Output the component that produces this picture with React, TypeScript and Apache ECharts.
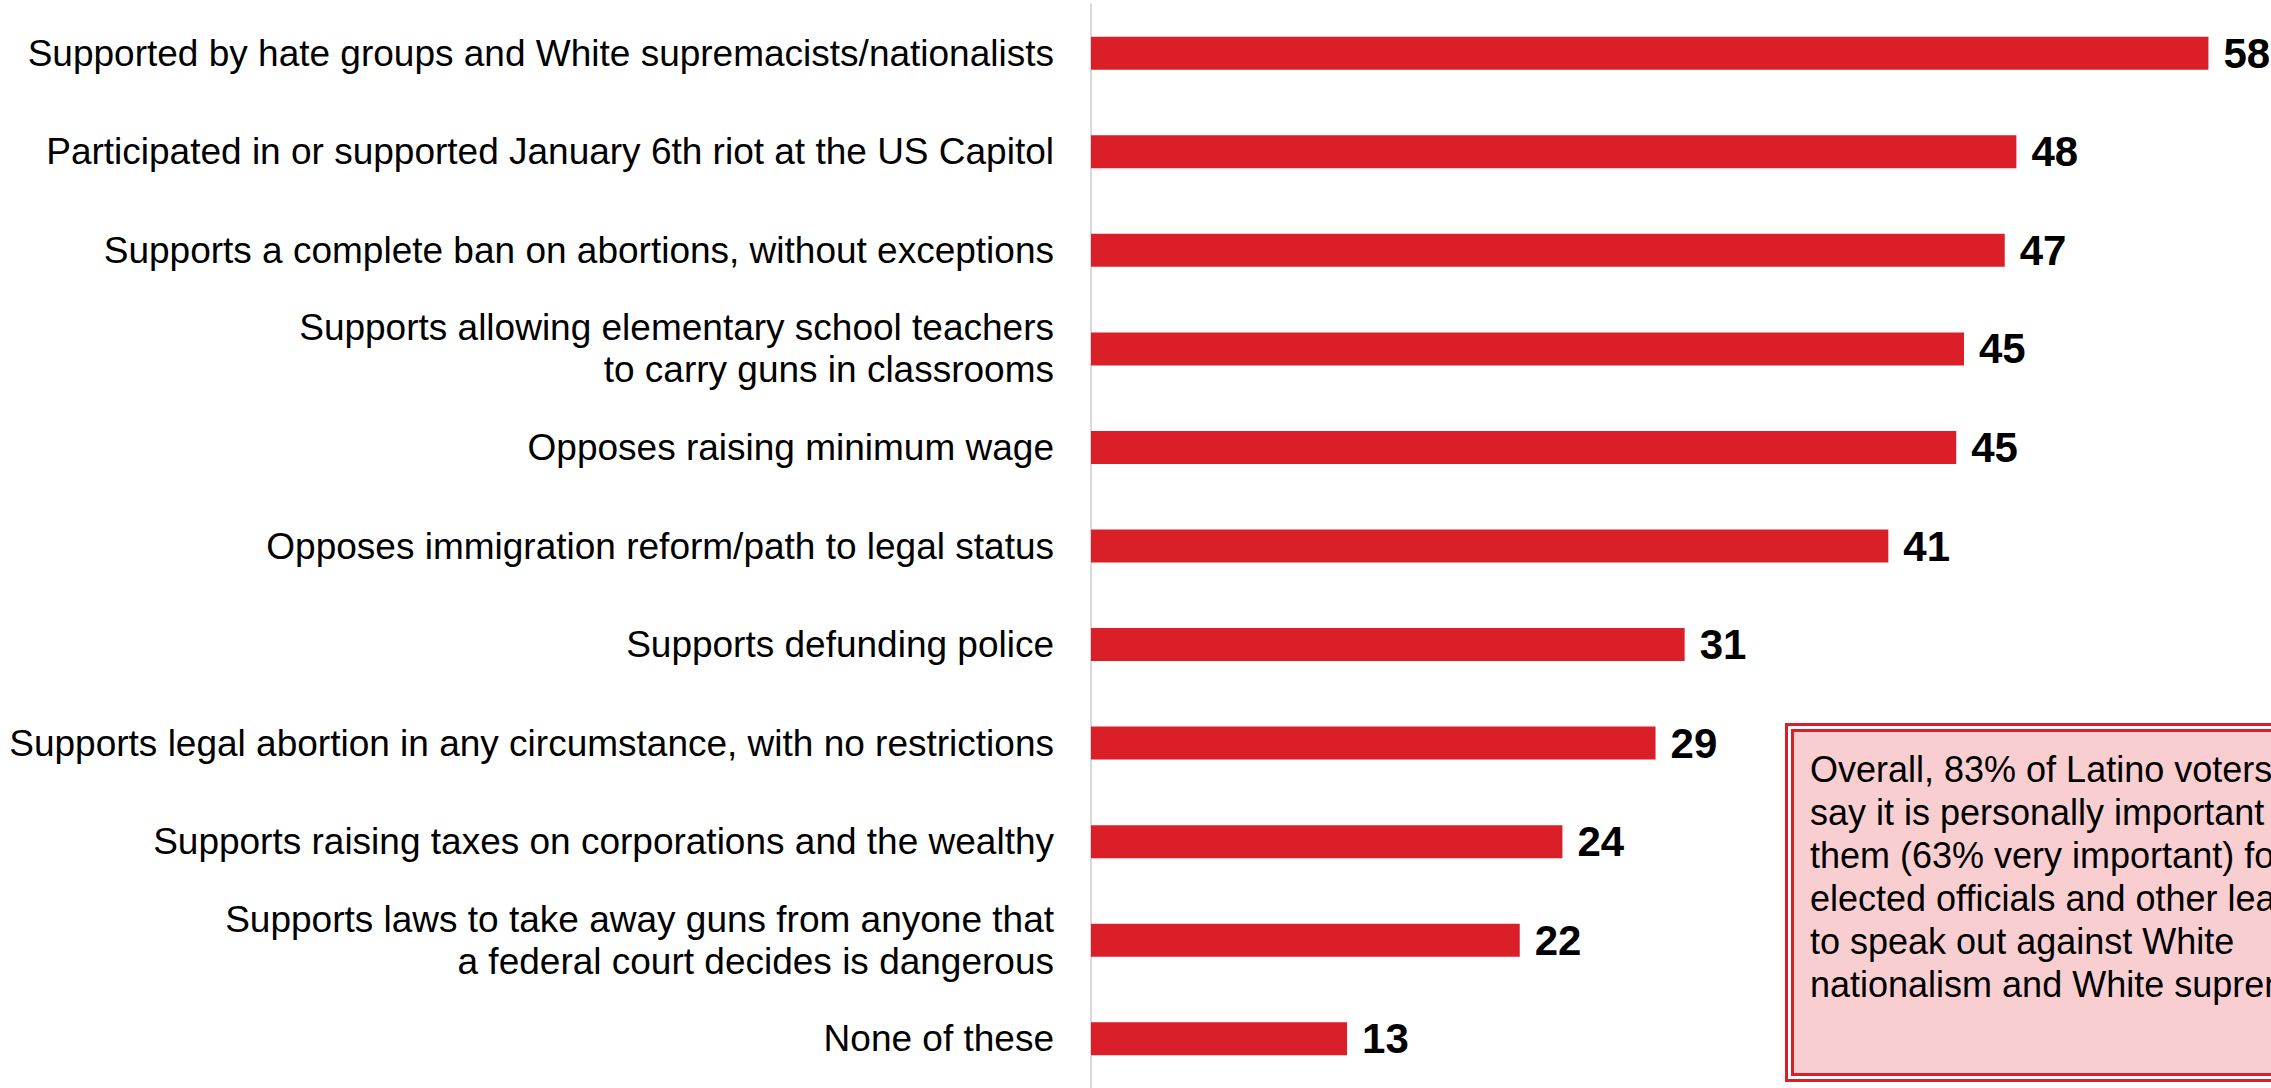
import React, { useEffect, useRef } from "react";
import * as echarts from "echarts";

const categories: string[] = [
  "Supported by hate groups and White supremacists/nationalists",
  "Participated in or supported January 6th riot at the US Capitol",
  "Supports a complete ban on abortions, without exceptions",
  "Supports allowing elementary school teachers\nto carry guns in classrooms",
  "Opposes raising minimum wage",
  "Opposes immigration reform/path to legal status",
  "Supports defunding police",
  "Supports legal abortion in any circumstance, with no restrictions",
  "Supports raising taxes on corporations and the wealthy",
  "Supports laws to take away guns from anyone that\na federal court decides is dangerous",
  "None of these",
];

const values: number[] = [57.6, 47.7, 47.1, 45.0, 44.6, 41.1, 30.6, 29.1, 24.3, 22.1, 13.2];

const noteLines: string[] = [
  "Overall, 83% of Latino voters",
  "say it is personally important to",
  "them (63% very important) for",
  "elected officials and other leaders",
  "to speak out against White",
  "nationalism and White supremacy.",
];

const RED = "#da1f29";
const FONT = "'Liberation Sans', Arial, Helvetica, sans-serif";

export default function App() {
  const ref = useRef<HTMLDivElement>(null);
  useEffect(() => {
    if (!ref.current) return;
    const chart = echarts.init(ref.current, undefined, { renderer: "svg" });
    chart.setOption({
      animation: false,
      backgroundColor: "#ffffff",
      grid: { left: 1091, top: 4, width: 1164, height: 1091, containLabel: false },
      xAxis: {
        type: "value",
        min: 0,
        max: 60,
        show: false,
        splitLine: { show: false },
      },
      yAxis: {
        type: "category",
        inverse: true,
        data: categories,
        axisLine: { show: true, lineStyle: { color: "#d9d9d9", width: 2 } },
        axisTick: { show: false },
        axisLabel: {
          margin: 37,
          color: "#000000",
          fontFamily: FONT,
          fontSize: 37,
          lineHeight: 42,
          align: "right",
        },
      },
      series: [
        {
          type: "bar",
          data: values,
          barWidth: 33,
          itemStyle: { color: RED },
          label: {
            show: true,
            position: "right",
            distance: 15,
            color: "#000000",
            fontFamily: FONT,
            fontWeight: "bold",
            fontSize: 42,
            formatter: (p: any) => String(Math.round(p.value)),
          },
        },
      ],
      graphic: [
        {
          type: "rect",
          shape: { x: 1786.5, y: 724.5, width: 600, height: 356 },
          style: { fill: "#ffffff", stroke: RED, lineWidth: 3 },
        },
        {
          type: "rect",
          shape: { x: 1792.5, y: 730.5, width: 600, height: 344 },
          style: { fill: "#f8ced1", stroke: RED, lineWidth: 3 },
        },
        {
          type: "text",
          x: 1810,
          y: 748,
          style: {
            text: noteLines.join("\n"),
            fill: "#000000",
            fontSize: 36,
            fontFamily: FONT,
            lineHeight: 43,
            verticalAlign: "top",
            align: "left",
          },
        },
      ],
    });
    return () => chart.dispose();
  }, []);
  return (
    <div
      ref={ref}
      style={{ position: "fixed", left: 0, top: 0, width: 2271, height: 1088, overflow: "hidden" }}
    />
  );
}
